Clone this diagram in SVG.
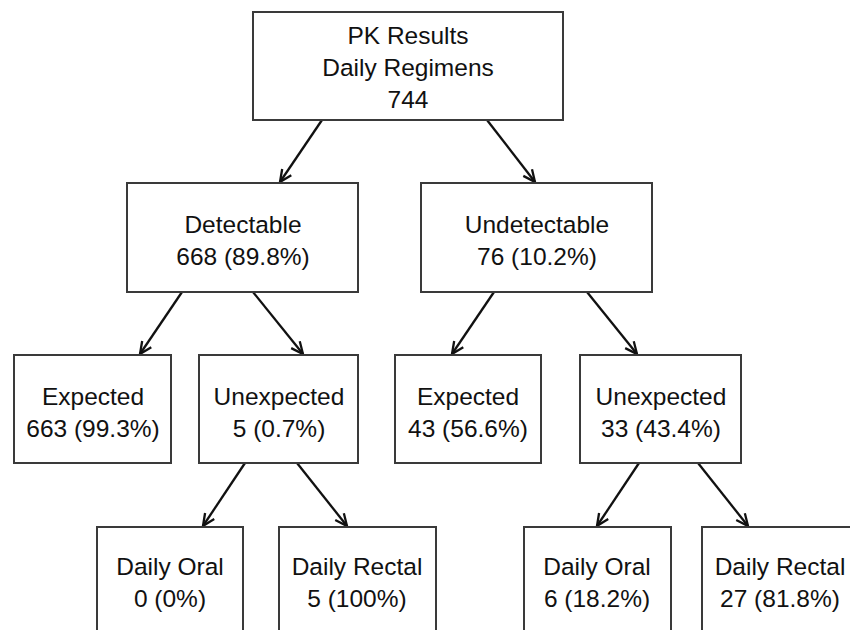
<svg xmlns="http://www.w3.org/2000/svg" width="850" height="630" viewBox="0 0 850 630">
<defs>
<style>
.box{fill:#fff;stroke:#3a3a3a;stroke-width:2}
.t{font-family:"Liberation Sans",Arial,sans-serif;font-size:24.5px;fill:#111;text-anchor:middle}
.c{stroke:#111;stroke-width:2.3;fill:none;marker-end:url(#ah)}
</style>
<marker id="ah" viewBox="0 0 14 14" refX="13" refY="7" markerWidth="14" markerHeight="14" markerUnits="userSpaceOnUse" orient="auto">
<path d="M1,1.5 L13,7 L1,12.5" fill="none" stroke="#111" stroke-width="2.3"/>
</marker>
</defs>
<rect width="850" height="630" fill="#fff"/>
<g id="connectors">
<line class="c" x1="322" y1="120" x2="280" y2="182"/>
<line class="c" x1="487" y1="120" x2="535" y2="182"/>
<line class="c" x1="182" y1="292" x2="140" y2="354"/>
<line class="c" x1="253" y1="292" x2="303" y2="354"/>
<line class="c" x1="494" y1="292" x2="452" y2="354"/>
<line class="c" x1="587" y1="292" x2="637" y2="354"/>
<line class="c" x1="245" y1="463" x2="203" y2="526"/>
<line class="c" x1="297" y1="463" x2="347" y2="526"/>
<line class="c" x1="639" y1="463" x2="597" y2="526"/>
<line class="c" x1="698" y1="463" x2="748" y2="526"/>
</g>
<g id="root">
<rect class="box" x="253" y="12" width="310" height="108"/>
<text class="t" x="408" y="44">PK Results</text>
<text class="t" x="408" y="76">Daily Regimens</text>
<text class="t" x="408" y="108">744</text>
</g>
<g id="detectable">
<rect class="box" x="127" y="183" width="231" height="109"/>
<text class="t" x="243" y="233">Detectable</text>
<text class="t" x="243" y="265">668 (89.8%)</text>
</g>
<g id="undetectable">
<rect class="box" x="421" y="183" width="231" height="109"/>
<text class="t" x="537" y="233">Undetectable</text>
<text class="t" x="537" y="265">76 (10.2%)</text>
</g>
<g id="det-expected">
<rect class="box" x="14" y="355" width="157" height="108"/>
<text class="t" x="93" y="405">Expected</text>
<text class="t" x="93" y="437">663 (99.3%)</text>
</g>
<g id="det-unexpected">
<rect class="box" x="199" y="355" width="159" height="108"/>
<text class="t" x="279" y="405">Unexpected</text>
<text class="t" x="279" y="437">5 (0.7%)</text>
</g>
<g id="und-expected">
<rect class="box" x="395" y="355" width="146" height="108"/>
<text class="t" x="468" y="405">Expected</text>
<text class="t" x="468" y="437">43 (56.6%)</text>
</g>
<g id="und-unexpected">
<rect class="box" x="580" y="355" width="161" height="108"/>
<text class="t" x="661" y="405">Unexpected</text>
<text class="t" x="661" y="437">33 (43.4%)</text>
</g>
<g id="det-oral">
<rect class="box" x="97" y="527" width="146" height="120"/>
<text class="t" x="170" y="575">Daily Oral</text>
<text class="t" x="170" y="607">0 (0%)</text>
</g>
<g id="det-rectal">
<rect class="box" x="279" y="527" width="157" height="120"/>
<text class="t" x="357" y="575">Daily Rectal</text>
<text class="t" x="357" y="607">5 (100%)</text>
</g>
<g id="und-oral">
<rect class="box" x="524" y="527" width="147" height="120"/>
<text class="t" x="597" y="575">Daily Oral</text>
<text class="t" x="597" y="607">6 (18.2%)</text>
</g>
<g id="und-rectal">
<rect class="box" x="702" y="527" width="170" height="120"/>
<text class="t" x="780" y="575">Daily Rectal</text>
<text class="t" x="780" y="607">27 (81.8%)</text>
</g>
</svg>
